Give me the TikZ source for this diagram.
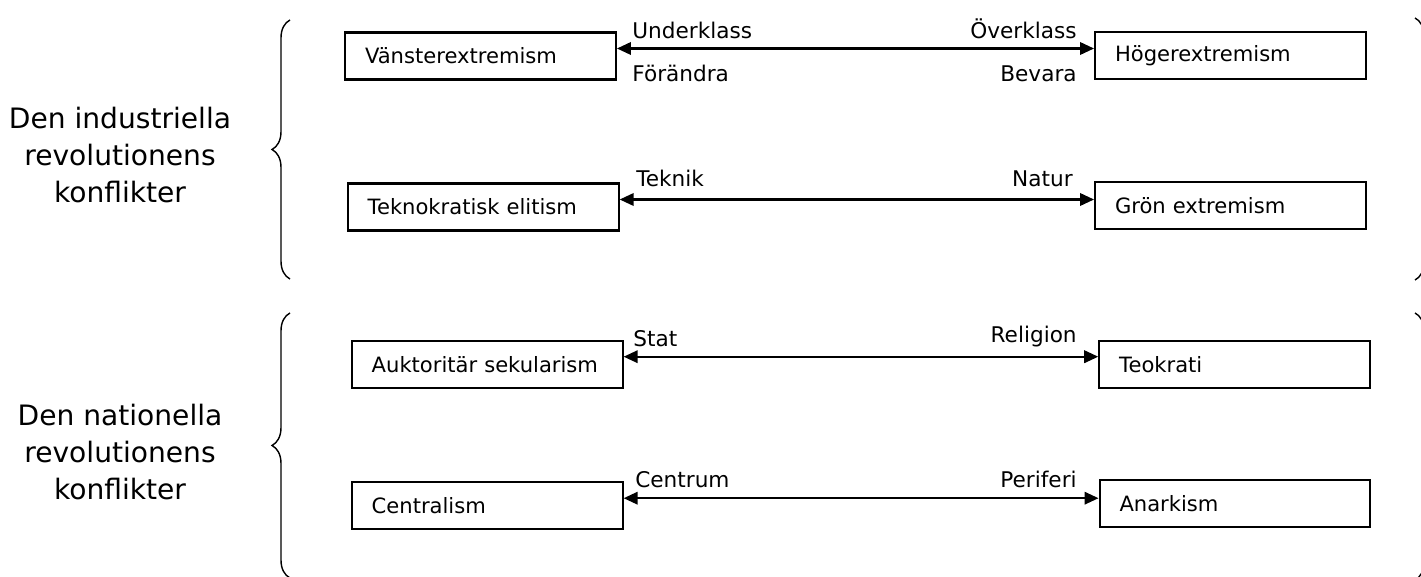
\documentclass[tikz,border=0pt]{standalone}
\usepackage{fontspec}
\setmainfont{DejaVu Sans}
\usetikzlibrary{arrows.meta,decorations.pathreplacing}

\tikzset{
  boks/.style={draw, line width=1.15pt, minimum height=0.94cm, text width=4.62cm,
    inner xsep=0.4cm, align=left, font=\fontsize{12}{14}\selectfont},
  pol/.style={inner sep=0pt, font=\fontsize{12.3}{14}\selectfont},
  dubbelpil/.style={{Triangle[length=0.28cm,width=0.25cm]}-{Triangle[length=0.28cm,width=0.25cm]},
    line width=1.15pt},
  klammer/.style={decorate, decoration={brace, amplitude=0.36cm}, line width=0.8pt},
  rubrik/.style={align=center, font=\fontsize{16}{21}\selectfont}
}

\begin{document}
\begin{tikzpicture}[x=0.02cm, y=-0.02cm]
\useasboundingbox (0,0) rectangle (1421,577);

% den industriella revolutionen
\node[rubrik] (industriell) at (120,155) {Den industriella\\revolutionens\\konflikter};
\draw[klammer] (290,279) -- (290,20);
\draw[klammer] (1415,18) -- (1415,280);

\node[boks] (vanster) at (480.5,56) {Vänsterextremism};
\node[boks] (hoger) at (1230.5,55.5) {Högerextremism};
\draw[dubbelpil] ([yshift=0.15cm]vanster.east) -- ([yshift=0.15cm]vanster.east -| hoger.west);
\node[pol, anchor=base west] (underklass) at (632,39) {Underklass};
\node[pol, anchor=base west] (forandra) at (632,82) {Förändra};
\node[pol, anchor=base east] (overklass) at (1077,39) {Överklass};
\node[pol, anchor=base east] (bevara) at (1077,82) {Bevara};

\node[boks] (tekno) at (483.2,207) {Teknokratisk elitism};
\node[boks] (gron) at (1230.5,205.3) {Grön extremism};
\draw[dubbelpil] ([yshift=0.15cm]tekno.east) -- ([yshift=0.15cm]tekno.east -| gron.west);
\node[pol, anchor=base west] (teknik) at (636,187) {Teknik};
\node[pol, anchor=base east] (natur) at (1073,187) {Natur};

% den nationella revolutionen
\node[rubrik] (nationell) at (120,452) {Den nationella\\revolutionens\\konflikter};
\draw[klammer] (290,578) -- (290,313);
\draw[klammer] (1415,313) -- (1415,580);

\node[boks] (auktor) at (487.2,364.2) {Auktoritär sekularism};
\node[boks] (teokrati) at (1234.7,364.7) {Teokrati};
\draw[dubbelpil] ([yshift=0.15cm]auktor.east) -- ([yshift=0.15cm]auktor.east -| teokrati.west);
\node[pol, anchor=base west] (stat) at (633,347) {Stat};
\node[pol, anchor=base east] (religion) at (1077,343) {Religion};

\node[boks] (central) at (487.2,505.7) {Centralism};
\node[boks] (anarkism) at (1235,503.7) {Anarkism};
\draw[dubbelpil] ([yshift=0.15cm]central.east) -- ([yshift=0.15cm]central.east -| anarkism.west);
\node[pol, anchor=base west] (centrum) at (635,488) {Centrum};
\node[pol, anchor=base east] (periferi) at (1077,488) {Periferi};
\end{tikzpicture}
\end{document}
